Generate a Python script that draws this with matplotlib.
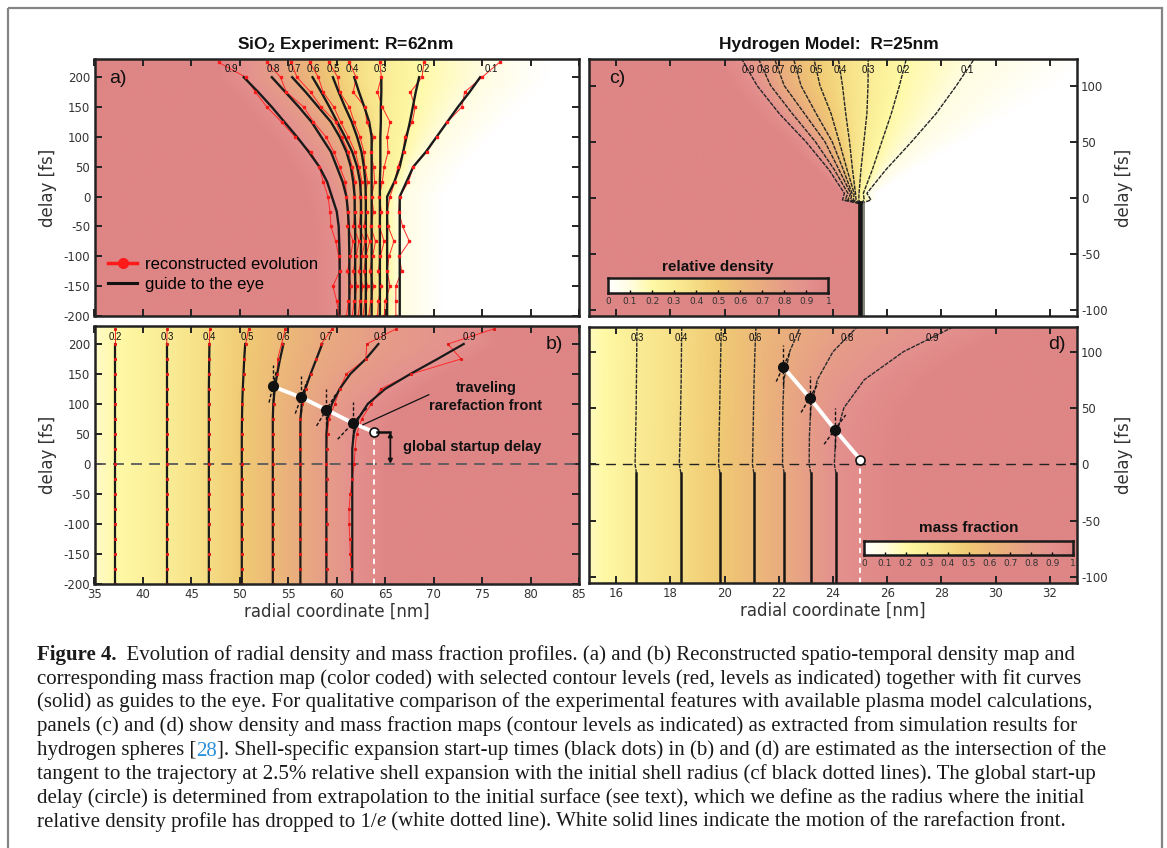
import numpy as np
import matplotlib
matplotlib.use("Agg")
import matplotlib.pyplot as plt
from matplotlib.colors import LinearSegmentedColormap
from matplotlib.lines import Line2D
from matplotlib.patches import Rectangle

# ---------------- data ----------------
dens_levels = [1.0, 0.9, 0.8, 0.7, 0.6, 0.5, 0.4, 0.3, 0.2, 0.1, 0.0]
dens_labels = ["0.9", "0.8", "0.7", "0.6", "0.5", "0.4", "0.3", "0.2", "0.1"]

# (a) SiO2 experiment, density contours: guide curves (radius in nm vs delay in fs)
t_a = [-200, -100, -50, -25, 0, 25, 50, 75, 100, 125, 150, 175, 200]
a_09 = [60.3, 60.3, 60.2, 60.0, 59.5, 59.0, 58.2, 57.1, 55.9, 54.6, 53.3, 51.9, 50.4]
a_08 = [61.3, 61.3, 61.25, 61.15, 61.0, 60.6, 60.0, 59.4, 58.4, 57.4, 56.1, 54.7, 53.3]
a_07 = [61.9, 61.9, 61.9, 61.85, 61.85, 61.7, 61.45, 61.0, 60.3, 59.4, 58.1, 56.8, 55.4]
a_06 = [62.5, 62.5, 62.5, 62.5, 62.5, 62.4, 62.1, 61.6, 60.85, 60.05, 59.25, 58.4, 57.5]
a_05 = [63.0, 63.0, 63.0, 63.0, 63.0, 62.95, 62.8, 62.55, 62.1, 61.55, 60.85, 60.2, 59.6]
a_04 = [63.6, 63.6, 63.6, 63.6, 63.6, 63.6, 63.6, 63.6, 63.6, 63.35, 62.85, 62.3, 61.8]
a_03 = [64.45, 64.45, 64.45, 64.45, 64.45, 64.45, 64.5, 64.5, 64.5, 64.55, 64.55, 64.6, 64.6]
a_02 = [65.2, 65.2, 65.2, 65.2, 65.2, 65.95, 66.5, 66.85, 67.2, 67.55, 67.85, 68.15, 68.5]
a_01 = [66.5, 66.5, 66.5, 66.5, 66.5, 67.2, 67.9, 69.2, 70.3, 71.4, 72.5, 73.7, 74.8]
one_a = [57.3, 57.3, 57.2, 57.0, 56.5, 56.0, 55.2, 54.1, 52.9, 51.5, 50.2, 48.8, 47.4]
zero_a = [71.0, 71.0, 71.0, 71.0, 71.0, 72.0, 73.0, 74.5, 76.0, 77.5, 79.0, 80.5, 82.0]

# (a) reconstructed evolution (red)
t_red = [-200, -175, -150, -125, -100, -75, -50, -25, 0, 25, 50, 75, 100, 125, 150, 175, 200, 225]
ra_09 = [60.2, 60.0, 59.6, 60.3, 60.2, 59.9, 59.4, 59.3, 59.1, 58.6, 58.2, 57.3, 55.7, 54.3, 52.8, 51.6, 50.6, 47.8]
ra_08 = [61.0, 61.2, 61.5, 61.1, 61.4, 61.7, 61.1, 61.2, 61.0, 60.9, 60.3, 59.7, 58.9, 57.6, 56.6, 54.8, 54.2, 52.8]
ra_07 = [61.6, 61.8, 62.1, 61.7, 62.0, 62.3, 61.7, 61.9, 61.8, 61.9, 61.6, 61.2, 60.5, 59.9, 58.4, 57.3, 55.9, 55.3]
ra_06 = [62.2, 62.4, 62.7, 62.3, 62.6, 62.9, 62.3, 62.5, 62.4, 62.6, 62.3, 61.9, 61.2, 60.4, 59.7, 58.6, 58.1, 57.2]
ra_05 = [62.7, 62.9, 63.2, 62.8, 63.0, 63.4, 62.8, 63.1, 62.9, 63.2, 62.9, 62.8, 62.4, 61.8, 61.3, 60.3, 60.1, 59.2]
ra_04 = [63.3, 63.5, 63.8, 63.4, 63.7, 64.0, 63.5, 63.8, 63.6, 63.9, 63.8, 63.5, 63.8, 63.1, 62.9, 61.7, 62.0, 61.3]
ra_03 = [64.2, 64.3, 64.6, 64.3, 64.5, 64.9, 64.4, 64.6, 64.4, 64.7, 64.9, 65.3, 65.2, 65.5, 64.7, 64.2, 64.6, 64.45]
ra_02 = [64.9, 65.0, 65.5, 65.2, 65.4, 65.9, 65.3, 65.2, 65.5, 66.0, 66.3, 66.9, 67.0, 67.8, 68.1, 67.6, 68.8, 69.0]
ra_01 = [66.1, 66.1, 66.1, 66.7, 66.45, 67.5, 66.8, 66.4, 66.5, 67.4, 67.9, 69.3, 70.3, 71.4, 72.9, 73.2, 75.0, 76.8]

# (b) SiO2 mass fraction contours
mass_levels_b = [0.0, 0.2, 0.3, 0.4, 0.5, 0.6, 0.7, 0.8, 0.9, 1.0]
mass_labels_b = ["0.2", "0.3", "0.4", "0.5", "0.6", "0.7", "0.8", "0.9"]
t_b = [-200, 0, 25, 50, 75, 100, 125, 150, 175, 200]
b_02 = [37.1, 37.1, 37.1, 37.1, 37.1, 37.1, 37.1, 37.1, 37.1, 37.1]
b_03 = [42.45, 42.45, 42.45, 42.45, 42.45, 42.45, 42.45, 42.45, 42.45, 42.45]
b_04 = [46.8, 46.8, 46.8, 46.8, 46.8, 46.8, 46.8, 46.82, 46.84, 46.86]
b_05 = [50.2, 50.2, 50.2, 50.2, 50.22, 50.25, 50.3, 50.38, 50.45, 50.55]
b_06 = [53.4, 53.4, 53.4, 53.4, 53.4, 53.45, 53.6, 53.85, 54.15, 54.5]
b_07 = [56.25, 56.25, 56.25, 56.25, 56.25, 56.4, 56.75, 57.3, 57.9, 58.5]
b_08 = [58.93, 58.93, 58.93, 58.93, 59.05, 59.5, 60.3, 61.4, 63.0, 64.3]
b_09 = [61.6, 61.6, 61.6, 61.75, 62.2, 63.2, 65.0, 67.6, 70.4, 73.1]
zero_b = [30.0, 30.0, 30.0, 30.0, 30.0, 30.0, 30.0, 30.0, 30.0, 30.0]
one_b = [65.5, 65.5, 65.6, 65.8, 66.3, 67.3, 69.0, 71.6, 74.4, 77.0]

rb_02 = [37.1, 37.1, 37.1, 37.1, 37.1, 37.1, 37.1, 37.1, 37.1, 37.1, 37.1, 37.1, 37.1, 37.1, 37.1, 37.1, 37.1, 37.1]
rb_03 = [42.45, 42.45, 42.45, 42.45, 42.45, 42.45, 42.45, 42.45, 42.45, 42.45, 42.45, 42.45, 42.45, 42.45, 42.45, 42.45, 42.45, 42.5]
rb_04 = [46.8, 46.8, 46.8, 46.8, 46.8, 46.8, 46.8, 46.8, 46.8, 46.8, 46.8, 46.8, 46.8, 46.8, 46.82, 46.84, 46.86, 46.9]
rb_05 = [50.2, 50.2, 50.2, 50.2, 50.2, 50.2, 50.2, 50.2, 50.2, 50.2, 50.2, 50.22, 50.25, 50.3, 50.38, 50.45, 50.6, 50.9]
rb_06 = [53.4, 53.4, 53.4, 53.4, 53.4, 53.4, 53.4, 53.4, 53.4, 53.4, 53.4, 53.4, 53.5, 53.6, 53.85, 53.9, 54.3, 54.7]
rb_07 = [56.25, 56.25, 56.25, 56.25, 56.25, 56.25, 56.25, 56.25, 56.25, 56.25, 56.25, 56.25, 56.4, 56.8, 57.3, 57.9, 58.4, 59.5]
rb_08 = [58.93, 58.95, 58.9, 58.92, 58.95, 58.9, 58.93, 58.95, 58.9, 58.95, 59.05, 59.2, 59.8, 60.3, 61.0, 63.0, 63.1, 66.1]
rb_09 = [61.58, 61.5, 61.4, 61.35, 61.27, 61.27, 61.4, 61.6, 61.8, 61.9, 62.05, 62.57, 63.56, 64.55, 67.7, 72.84, 71.46, 76.2]

# (b) shell start-up points, tangent slopes (nm/fs), global start-up circle
dot_r_b = [53.4, 56.33, 58.93, 61.66]
dot_t_b = [129.2, 110.9, 90.3, 68.0]
slope_b = [0.0144, 0.0226, 0.0376, 0.058]
circle_b = (63.87, 52.9)

# (c) hydrogen model, density contours
t_c = [-105.5, -5, -2, 4, 25, 50, 75, 100, 123.5]
c_09 = [24.96, 24.96, 24.35, 24.42, 23.85, 23.0, 22.02, 21.2, 20.64]
c_08 = [24.97, 24.97, 24.45, 24.55, 24.05, 23.35, 22.5, 21.7, 21.26]
c_07 = [24.98, 24.98, 24.55, 24.65, 24.22, 23.7, 22.95, 22.2, 21.85]
c_06 = [24.99, 24.99, 24.65, 24.7, 24.38, 23.97, 23.38, 22.82, 22.55]
c_05 = [25.0, 25.0, 24.75, 24.78, 24.52, 24.23, 23.93, 23.52, 23.3]
c_04 = [25.01, 25.01, 24.85, 24.83, 24.72, 24.61, 24.47, 24.35, 24.2]
c_03 = [25.02, 25.02, 24.95, 24.96, 25.03, 25.14, 25.25, 25.29, 25.3]
c_02 = [25.03, 25.03, 25.15, 25.12, 25.45, 25.8, 26.15, 26.45, 26.7]
c_01 = [25.04, 25.04, 25.4, 25.25, 25.95, 26.9, 27.8, 28.55, 29.2]
one_c = [24.95, 24.95, 24.3, 24.3, 23.3, 22.2, 21.1, 20.2, 19.6]
zero_c = [25.05, 25.05, 25.6, 25.6, 27.0, 28.8, 30.6, 32.2, 33.5]
surface_c = 25.0

# (d) hydrogen model, mass fraction contours
mass_levels_d = [0.0, 0.3, 0.4, 0.5, 0.6, 0.7, 0.8, 0.9, 1.0]
mass_labels_d = ["0.3", "0.4", "0.5", "0.6", "0.7", "0.8", "0.9"]
t_d = [-105.5, -8, 0, 25, 50, 75, 100, 122.2]
d_03 = [16.75, 16.75, 16.7, 16.72, 16.74, 16.75, 16.76, 16.77]
d_04 = [18.39, 18.39, 18.33, 18.36, 18.38, 18.4, 18.41, 18.42]
d_05 = [19.83, 19.83, 19.78, 19.8, 19.82, 19.84, 19.86, 19.88]
d_06 = [21.08, 21.08, 21.03, 21.05, 21.07, 21.09, 21.12, 21.16]
d_07 = [22.2, 22.2, 22.14, 22.14, 22.15, 22.19, 22.4, 22.8]
d_08 = [23.18, 23.18, 23.12, 23.13, 23.18, 23.42, 24.0, 24.9]
d_09 = [24.11, 24.11, 24.05, 24.1, 24.4, 25.15, 26.6, 28.45]
zero_d = [13.0, 13.0, 13.0, 13.0, 13.0, 13.0, 13.0, 13.0]
one_d = [26.6, 26.6, 26.6, 26.7, 27.0, 27.8, 29.3, 31.2]

dot_r_d = [22.16, 23.14, 24.07]
dot_t_d = [86.5, 59.0, 30.8]
slope_d = [0.0195, 0.0244, 0.0306]
circle_d = (25.01, 4.1)

bar_ticks = [0, 0.1, 0.2, 0.3, 0.4, 0.5, 0.6, 0.7, 0.8, 0.9, 1.0]
bar_labels = ["0", "0.1", "0.2", "0.3", "0.4", "0.5", "0.6", "0.7", "0.8", "0.9", "1"]

# ---------------- figure ----------------
W, H = 1167, 848
plt.rcParams["font.family"] = "DejaVu Sans"
plt.rcParams["axes.unicode_minus"] = False
plt.rcParams["mathtext.fontset"] = "custom"
plt.rcParams["mathtext.rm"] = "Liberation Sans"
plt.rcParams["mathtext.bf"] = "Liberation Sans:bold"
SANS = "Liberation Sans"
SERIF = "Liberation Serif"

fig = plt.figure(figsize=(W / 100, H / 100), dpi=100)

cmap = LinearSegmentedColormap.from_list("dens", [
    (0.0, "#ffffff"), (0.1, "#fffde0"), (0.2, "#fff9a6"), (0.35, "#f8e58c"),
    (0.5, "#f0ca74"), (0.65, "#ebb27c"), (0.8, "#e69d88"), (0.9, "#e4918e"),
    (1.0, "#de8585")])


def add_ax(x0, y0, x1, y1):
    return fig.add_axes([x0 / W, 1 - y1 / H, (x1 - x0) / W, (y1 - y0) / H])


def field_image(ax, xlim, ylim, t_nodes, radii, levels):
    r = np.linspace(xlim[0], xlim[1], 700)
    t = np.linspace(ylim[0], ylim[1], 450)
    img = np.empty((t.size, r.size))
    for i, ti in enumerate(t):
        xp = [np.interp(ti, t_nodes, rr) for rr in radii]
        img[i] = np.interp(r, xp, levels)
    ax.imshow(img, extent=[xlim[0], xlim[1], ylim[0], ylim[1]], origin="lower",
              aspect="auto", cmap=cmap, vmin=0, vmax=1, interpolation="bilinear", zorder=0)


def style(ax, xlim, ylim, xticks, yticks, right=False, xlabels=True):
    ax.set_xlim(xlim)
    ax.set_ylim(ylim)
    ax.set_xticks(xticks)
    ax.set_yticks(yticks)
    ax.tick_params(direction="in", top=True, right=True, length=5, width=1.4,
                   labelsize=8.5, labelcolor="#333333", color="#222222", pad=3)
    ax.tick_params(labelbottom=xlabels, labelleft=not right, labelright=right)
    for s in ax.spines.values():
        s.set_linewidth(1.8)
        s.set_color("#222222")
        s.set_zorder(10)
    ax.set_ylabel("delay [fs]", fontsize=12, color="#333333", labelpad=5)
    if right:
        ax.yaxis.set_label_position("right")
    if xlabels:
        ax.set_xlabel("radial coordinate [nm]", fontsize=12, color="#333333", labelpad=1)


def level_labels(ax, labels, lines, t_nodes, t_lab):
    for lab, line in zip(labels, lines):
        ax.text(np.interp(t_lab, t_nodes, line), t_lab, lab, fontsize=7, family=SANS,
                ha="center", va="center", color="#111111", zorder=6)


def startup_marks(ax, rs, ts, slopes, dt, v_lo, v_hi, circle):
    ax.plot(list(rs) + [circle[0]], list(ts) + [circle[1]], color="white", lw=2.8,
            solid_capstyle="round", zorder=5)
    for r0, t0, s in zip(rs, ts, slopes):
        ax.plot([r0 - s * dt, r0 + s * dt], [t0 - dt, t0 + dt], color="#111111",
                lw=1.0, ls=(0, (2.5, 1.5)), zorder=6)
        ax.plot([r0, r0], [t0 - v_lo, t0 + v_hi], color="#111111", lw=1.0,
                ls=(0, (2.5, 1.5)), zorder=6)
    ax.plot(rs, ts, "o", color="#111111", ms=7, zorder=7)
    ax.plot([circle[0]], [circle[1]], "o", mfc="white", mec="#111111", mew=1.2, ms=6.5, zorder=8)


def colour_bar(x0, y0, x1, y1, title, title_y):
    cax = add_ax(x0, y0, x1, y1)
    cax.imshow(np.linspace(0, 1, 256)[None, :], extent=[0, 1, 0, 1], aspect="auto", cmap=cmap)
    cax.set_xlim(0, 1)
    cax.set_xticks(bar_ticks)
    cax.set_xticklabels(bar_labels, fontsize=6.5, color="#333333")
    cax.set_yticks([])
    cax.tick_params(axis="x", direction="in", length=2.5, width=1.0, pad=3)
    for s in cax.spines.values():
        s.set_linewidth(1.8)
        s.set_color("#1a1a1a")
    fig.text((x0 + x1) / 2 / W, 1 - title_y / H, title, ha="center", va="center",
             fontsize=11, fontweight="bold", family=SANS, color="#111111")


# ---- panel a ----
ax_a = add_ax(94.5, 59.3, 579, 316)
guides_a = [a_09, a_08, a_07, a_06, a_05, a_04, a_03, a_02, a_01]
reds_a = [ra_09, ra_08, ra_07, ra_06, ra_05, ra_04, ra_03, ra_02, ra_01]
field_image(ax_a, (35, 85), (-200, 230), t_a, [one_a] + guides_a + [zero_a], dens_levels)
for red in reds_a:
    ax_a.plot(red, t_red, color="#ff2a2a", lw=0.7, zorder=2)
for g in guides_a:
    ax_a.plot(g, t_a, color="#1a1a1a", lw=1.7, zorder=3)
for red in reds_a:
    ax_a.plot(red, t_red, ls="none", marker="s", ms=1.8, color="#ff1a1a", zorder=4)
level_labels(ax_a, dens_labels, reds_a, t_red, 213)
style(ax_a, (35, 85), (-200, 230), range(35, 86, 5), range(-200, 201, 50), xlabels=False)
ax_a.text(0.03, 0.927, "a)", transform=ax_a.transAxes, fontsize=14, family=SANS,
          ha="left", va="center", color="#111111")
handles = [Line2D([0], [0], color="#ff1a1a", lw=2.5, marker="o", ms=7),
           Line2D([0], [0], color="#111111", lw=2.2)]
ax_a.legend(handles, ["reconstructed evolution", "guide to the eye"], loc="lower left",
            bbox_to_anchor=(0.028, 0.095), frameon=False, borderpad=0, borderaxespad=0,
            handlelength=1.75, handletextpad=0.45, labelspacing=0.3,
            prop={"family": SANS, "size": 12})

# ---- panel b ----
ax_b = add_ax(94.5, 326, 579, 583.7)
guides_b = [b_02, b_03, b_04, b_05, b_06, b_07, b_08, b_09]
reds_b = [rb_02, rb_03, rb_04, rb_05, rb_06, rb_07, rb_08, rb_09]
field_image(ax_b, (35, 85), (-200, 230), t_b, [zero_b] + guides_b + [one_b], mass_levels_b)
ax_b.axhline(0, color="#5a5a5a", lw=1.3, ls=(0, (6, 4)), zorder=2)
ax_b.plot([circle_b[0], circle_b[0]], [-200, circle_b[1]], color="white", lw=1.3,
          ls=(0, (3, 2.5)), zorder=4)
for red in reds_b:
    ax_b.plot(red, t_red, color="#ff2a2a", lw=0.7, zorder=2)
for g in guides_b:
    ax_b.plot(g, t_b, color="#1a1a1a", lw=1.6, zorder=3)
for red in reds_b:
    ax_b.plot(red, t_red, ls="none", marker="s", ms=1.2, color="#e01818", zorder=4)
level_labels(ax_b, mass_labels_b, reds_b, t_red, 212)
startup_marks(ax_b, dot_r_b, dot_t_b, slope_b, 27, 25, 35, circle_b)
ax_b.text(75.4, 111.7, "traveling\nrarefaction front", ha="center", va="center", fontsize=10.5,
          fontweight="bold", family=SANS, linespacing=1.3, color="#111111", zorder=8)
ax_b.plot([69.5, 62.7], [115.3, 65.2], color="#111111", lw=0.9, zorder=8)
ax_b.text(74.0, 27.3, "global startup delay", ha="center", va="center", fontsize=10.5,
          fontweight="bold", family=SANS, color="#111111", zorder=8)
ax_b.plot([circle_b[0] + 0.3, 65.53], [circle_b[1], circle_b[1]], color="#111111", lw=1.8, zorder=8)
ax_b.annotate("", xy=(65.53, 0), xytext=(65.53, circle_b[1]),
              arrowprops=dict(arrowstyle="<|-|>", color="#111111", lw=1.3,
                              mutation_scale=6, shrinkA=0, shrinkB=0), zorder=8)
style(ax_b, (35, 85), (-200, 230), range(35, 86, 5), range(-200, 201, 50))
ax_b.text(0.967, 0.93, "b)", transform=ax_b.transAxes, fontsize=14, family=SANS,
          ha="right", va="center", color="#111111")

# ---- panel c ----
ax_c = add_ax(589, 59.3, 1077, 316)
lines_c = [c_09, c_08, c_07, c_06, c_05, c_04, c_03, c_02, c_01]
field_image(ax_c, (15, 33), (-105.5, 123.5), t_c, [one_c] + lines_c + [zero_c], dens_levels)
for line in lines_c:
    ax_c.plot(line[1:], t_c[1:], color="#262626", lw=1.0, ls=(0, (3, 0.8)), zorder=3)
ax_c.plot([surface_c, surface_c], [t_c[0], t_c[1]], color="#151515", lw=3.4, zorder=4)
ax_c.plot([surface_c + 0.16, surface_c + 0.16], [t_c[0], t_c[1]], color="#6f6f60", lw=1.2, zorder=4)
level_labels(ax_c, dens_labels, lines_c, t_c, 114)
style(ax_c, (15, 33), (-105.5, 123.5), range(16, 33, 2), range(-100, 101, 50),
      right=True, xlabels=False)
ax_c.text(0.042, 0.927, "c)", transform=ax_c.transAxes, fontsize=14, family=SANS,
          ha="left", va="center", color="#111111")
colour_bar(607.9, 278.3, 828.4, 292.7, "relative density", 267.3)

# ---- panel d ----
ax_d = add_ax(589, 326.7, 1077, 583)
lines_d = [d_03, d_04, d_05, d_06, d_07, d_08, d_09]
field_image(ax_d, (15, 33), (-105.5, 122.2), t_d, [zero_d] + lines_d + [one_d], mass_levels_d)
ax_d.axhline(0, color="#222222", lw=1.0, ls=(0, (7, 5)), zorder=2)
ax_d.plot([circle_d[0], circle_d[0]], [-105.5, circle_d[1]], color="white", lw=1.3,
          ls=(0, (3, 2.5)), zorder=4)
for line in lines_d:
    ax_d.plot(line[:2], t_d[:2], color="#151515", lw=1.8, zorder=3)
    ax_d.plot(line[1:], t_d[1:], color="#2b2b2b", lw=1.0, ls=(0, (3, 0.8)), zorder=3)
level_labels(ax_d, mass_labels_d, lines_d, t_d, 112.6)
startup_marks(ax_d, dot_r_d, dot_t_d, slope_d, 13, 16, 19, circle_d)
style(ax_d, (15, 33), (-105.5, 122.2), range(16, 33, 2), range(-100, 101, 50), right=True)
ax_d.text(0.976, 0.929, "d)", transform=ax_d.transAxes, fontsize=14, family=SANS,
          ha="right", va="center", color="#111111")
colour_bar(864, 541, 1073, 555, "mass fraction", 528.3)

# titles
fig.text(345 / W, 1 - 44 / H, r"SiO$_\mathbf{2}$ Experiment: R=62nm", ha="center", va="center",
         fontsize=12.5, fontweight="bold", family=SANS, color="#111111")
fig.text(829 / W, 1 - 44 / H, "Hydrogen Model:  R=25nm", ha="center", va="center",
         fontsize=12.5, fontweight="bold", family=SANS, color="#111111")

# ---- caption and frame ----
cap = fig.add_axes([0, 0, 1, 1], zorder=-5)
cap.set_xlim(0, W)
cap.set_ylim(H, 0)
cap.axis("off")
cap.add_patch(Rectangle((8, 8), 1154, 900, fill=False, edgecolor="#858585", lw=1.6, clip_on=False))

caption = [
    [("Figure 4.", {"fontweight": "bold"}),
     ("  Evolution of radial density and mass fraction profiles. (a) and (b) Reconstructed spatio-temporal density map and", {})],
    [("corresponding mass fraction map (color coded) with selected contour levels (red, levels as indicated) together with fit curves", {})],
    [("(solid) as guides to the eye. For qualitative comparison of the experimental features with available plasma model calculations,", {})],
    [("panels (c) and (d) show density and mass fraction maps (contour levels as indicated) as extracted from simulation results for", {})],
    [("hydrogen spheres [", {}), ("28", {"color": "#2a8fd8"}),
     ("]. Shell-specific expansion start-up times (black dots) in (b) and (d) are estimated as the intersection of the", {})],
    [("tangent to the trajectory at 2.5% relative shell expansion with the initial shell radius (cf black dotted lines). The global start-up", {})],
    [("delay (circle) is determined from extrapolation to the initial surface (see text), which we define as the radius where the initial", {})],
    [("relative density profile has dropped to 1/", {}), ("e", {"style": "italic"}),
     (" (white dotted line). White solid lines indicate the motion of the rarefaction front.", {})],
]
baselines = [660, 684, 707.5, 731.5, 755.5, 779, 803, 826.5]
for y, pieces in zip(baselines, caption):
    prev = None
    for txt, kw in pieces:
        opts = dict(fontsize=15, family=SERIF, color="#1a1a1a")
        opts.update(kw)
        if prev is None:
            prev = cap.text(37, y, txt, ha="left", va="baseline", **opts)
        else:
            prev = cap.annotate(txt, xy=(1, 0), xycoords=prev, ha="left", va="bottom", **opts)

fig.savefig("out.png", dpi=100)
